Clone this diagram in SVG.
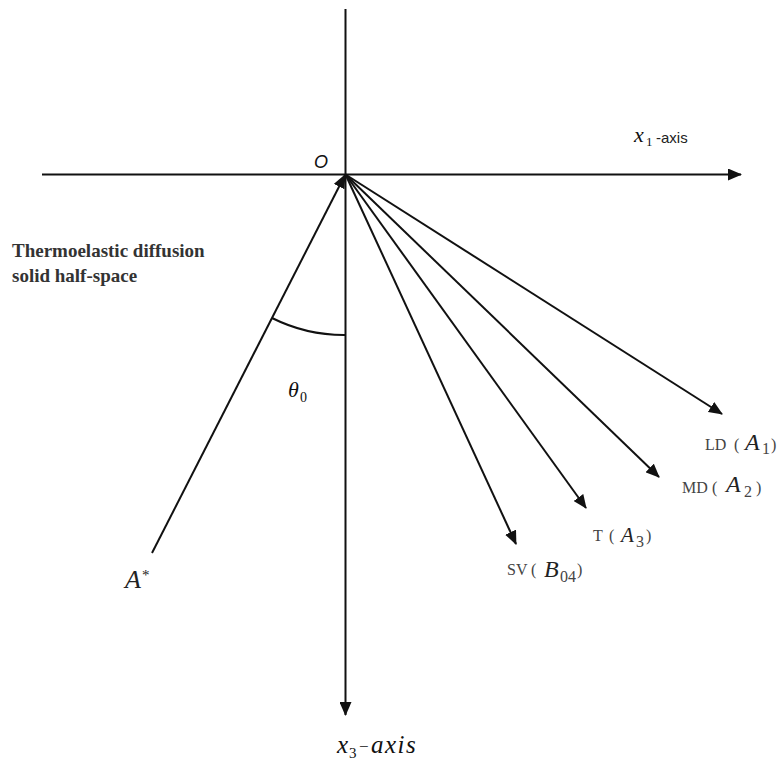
<svg xmlns="http://www.w3.org/2000/svg" width="778" height="761" viewBox="0 0 778 761">
<style>
.ln{stroke:#111;stroke-width:2;fill:none}
.ser{font-family:"Liberation Serif","Times New Roman",serif}
.it{font-style:italic}
.lab{fill:#444;font-size:16px}
.big{fill:#222}
</style>
<defs>
<marker id="ah" markerUnits="userSpaceOnUse" markerWidth="14" markerHeight="12" refX="13" refY="6" orient="auto">
<path d="M0,0 L14,6 L0,12 z" fill="#111"/>
</marker>
</defs>
<rect width="778" height="761" fill="#fff"/>
<g id="connectors">
<line id="x1-axis" class="ln" x1="42" y1="174.5" x2="741" y2="174.5" marker-end="url(#ah)"/>
<line id="x3-axis" class="ln" x1="345.5" y1="9" x2="345.5" y2="715" marker-end="url(#ah)"/>
<line id="incident" class="ln" x1="152" y1="553" x2="345" y2="175" marker-end="url(#ah)"/>
<line id="ray-LD" class="ln" x1="345.5" y1="174.5" x2="722" y2="414" marker-end="url(#ah)"/>
<line id="ray-MD" class="ln" x1="345.5" y1="174.5" x2="659" y2="477" marker-end="url(#ah)"/>
<line id="ray-T" class="ln" x1="345.5" y1="174.5" x2="586" y2="508" marker-end="url(#ah)"/>
<line id="ray-SV" class="ln" x1="345.5" y1="174.5" x2="516" y2="544" marker-end="url(#ah)"/>
<path id="angle-arc" class="ln" stroke-width="1.5" d="M272,318 A161,161 0 0 0 345.5,335"/>
</g>
<g id="origin">
<text x="314" y="168" font-family="'Liberation Sans',Arial,sans-serif" font-style="italic" font-size="18" fill="#111">O</text>
</g>
<g id="x1-label">
<text class="ser it" x="634" y="142" font-size="22" fill="#111">x</text>
<text class="ser" x="646" y="146" font-size="13" fill="#111">1</text>
<text x="656" y="143" font-family="'Liberation Sans',Arial,sans-serif" font-size="15" fill="#222">-axis</text>
</g>
<g id="x3-label">
<text class="ser it" x="337" y="753" font-size="25" fill="#111">x</text>
<text class="ser" x="349" y="758" font-size="15" fill="#111">3</text>
<text class="ser" x="359" y="752" font-size="17" fill="#111">−</text>
<text class="ser it" x="371" y="753" font-size="25" letter-spacing="1.5" fill="#111">axis</text>
</g>
<g id="medium-label">
<text class="ser" font-weight="bold" font-size="19" fill="#333"><tspan x="12" y="257">Thermoelastic diffusion</tspan><tspan x="12" y="282">solid half-space</tspan></text>
</g>
<g id="theta">
<text class="ser it" x="288" y="397" font-size="22" fill="#111">θ</text>
<text class="ser" x="300" y="402" font-size="14" fill="#111">0</text>
</g>
<g id="A-star">
<text class="ser it" x="125" y="588" font-size="26" fill="#222">A</text>
<text class="ser" x="142" y="580" font-size="15" fill="#222">*</text>
</g>
<g id="LD">
<text class="ser lab" x="705" y="450" font-size="17">LD</text>
<text class="ser lab" x="734" y="450" font-size="17">(</text>
<text class="ser it big" x="745" y="450" font-size="24">A</text>
<text class="ser lab" x="762" y="454" font-size="15">1</text>
<text class="ser lab" x="771" y="450" font-size="17">)</text>
</g>
<g id="MD">
<text class="ser lab" x="682" y="493" font-size="17">MD</text>
<text class="ser lab" x="712" y="493" font-size="17">(</text>
<text class="ser it big" x="726" y="492" font-size="24">A</text>
<text class="ser lab" x="744" y="497" font-size="15">2</text>
<text class="ser lab" x="756" y="493" font-size="17">)</text>
</g>
<g id="T">
<text class="ser lab" x="593" y="541">T</text>
<text class="ser lab" x="609" y="541">(</text>
<text class="ser it big" x="621" y="542" font-size="21">A</text>
<text class="ser lab" x="636" y="547" font-size="13">3</text>
<text class="ser lab" x="646" y="541">)</text>
</g>
<g id="SV">
<text class="ser lab" x="507" y="575">SV</text>
<text class="ser lab" x="531" y="575">(</text>
<text class="ser it big" x="544" y="577" font-size="24">B</text>
<text class="ser lab" x="560" y="582" font-size="14">04</text>
<text class="ser lab" x="577" y="575">)</text>
</g>
</svg>
